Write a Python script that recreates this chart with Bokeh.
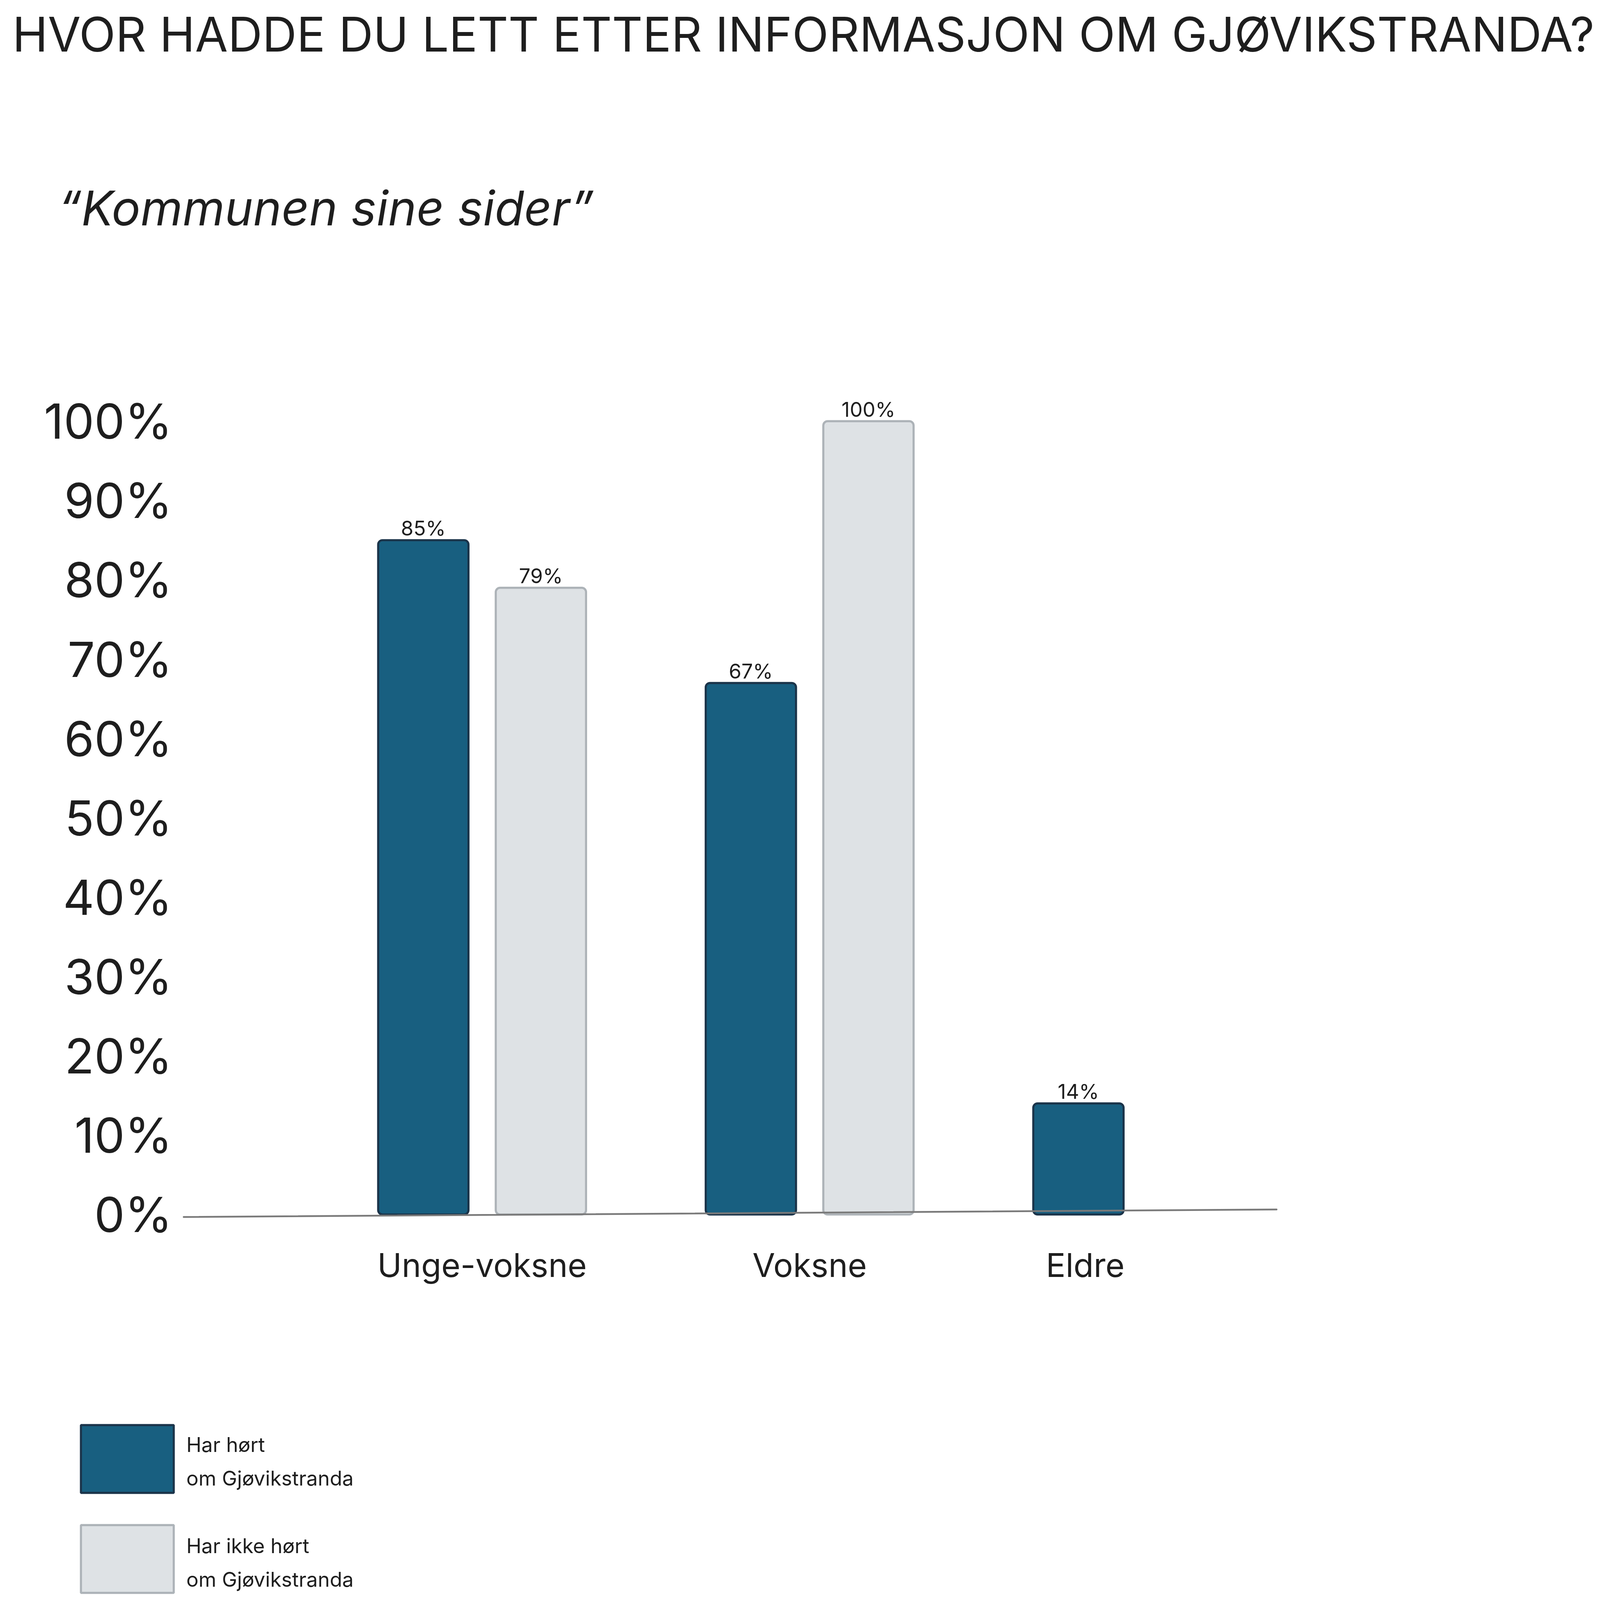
from bokeh.plotting import figure
from bokeh.models import ColumnDataSource, Range1d, FixedTicker, Label, Legend, LegendItem
from bokeh.embed import file_html
from bokeh.resources import INLINE
from bokeh.core.properties import value

# ---------------- data ----------------
title_text = "HVOR HADDE DU LETT ETTER INFORMASJON OM GJØVIKSTRANDA?"
subtitle_text = "\u201cKommunen sine sider\u201d"
categories = ["Unge-voksne", "Voksne", "Eldre"]
series_lines = [["Har hørt", "om Gjøvikstranda"], ["Har ikke hørt", "om Gjøvikstranda"]]
har_hort = [85, 67, 14]
har_ikke_hort = [79, 100, None]
y_ticks = [0, 10, 20, 30, 40, 50, 60, 70, 80, 90, 100]
y_tick_labels = ["0%", "10%", "20%", "30%", "40%", "50%", "60%", "70%", "80%", "90%", "100%"]

# ---------------- layout (reference pixel geometry -> page) ----------------
V = 4100                      # visible page size
SX, SY = V / 6102, V / 5766
W = H = V - 16


def cxp(rx):
    return rx * SX - 8


def cyp(ry):
    return ry * SY - 8


G0 = cxp(1848)                # centre of first group (canvas px)
GP = 1248 * SX                # px per group
Y0P = cyp(4383)               # canvas y of 0 %
PPP = (cyp(4383) - cyp(1527)) / 100.0


def dx(rx):
    return (cxp(rx) - G0) / GP


def dx_canvas(c):
    return (c - G0) / GP


def dy(ry):
    return (Y0P - cyp(ry)) / PPP


def dy_label(ry, font_px):
    # Label boxes sit ~0.29 em lower than the alphabetic baseline; compensate
    return (Y0P - (cyp(ry) - 0.29 * font_px)) / PPP


OFFSET = 224 / 1248
BAR_W = 344 / 1248
LABEL_X = [0, 1, dx(4146)]

DARK_FILL, DARK_LINE = "#185f80", "#1b344a"
LIGHT_FILL, LIGHT_LINE = "#dee2e5", "#adb3b8"
TEXT = "#1e1e1e"
FONT = "Inter"

p = figure(width=W, height=H, output_backend="svg", toolbar_location=None,
           x_range=Range1d(dx_canvas(0), dx_canvas(W)),
           y_range=Range1d((Y0P - H) / PPP, Y0P / PPP),
           min_border=0, min_border_left=0, min_border_right=0,
           min_border_top=0, min_border_bottom=0)
p.title.visible = False
p.outline_line_color = None
p.background_fill_color = "white"
p.border_fill_color = "white"
p.xgrid.visible = False
p.ygrid.visible = False

# bars
idx = list(range(len(categories)))
src_dark = ColumnDataSource(dict(
    x=[i - OFFSET for i in idx], top=har_hort,
    label=[f"{v}%" for v in har_hort]))
li = [i for i, v in zip(idx, har_ikke_hort) if v is not None]
lv = [v for v in har_ikke_hort if v is not None]
src_light = ColumnDataSource(dict(
    x=[i + OFFSET for i in li], top=lv, label=[f"{v}%" for v in lv]))

LW = 8 * SX
r_dark = p.vbar(x="x", top="top", bottom=0, width=BAR_W, source=src_dark,
                fill_color=DARK_FILL, line_color=DARK_LINE, line_width=LW,
                border_radius=11)
r_light = p.vbar(x="x", top="top", bottom=0, width=BAR_W, source=src_light,
                 fill_color=LIGHT_FILL, line_color=LIGHT_LINE, line_width=LW,
                 border_radius=11)

for s in (src_dark, src_light):
    p.text(x="x", y="top", text="label", source=s, text_align="center",
           text_baseline="alphabetic", y_offset=-30, text_color=TEXT,
           text_font=value(FONT), text_font_size="52px")

# tilted baseline
p.segment(x0=[dx(711)], y0=[dy(4392)], x1=[dx(4875)], y1=[dy(4365)],
          line_color="#7a7a7a", line_width=4.5, line_cap="round")

# axes (drawn at fixed locations inside the canvas)
p.yaxis.fixed_location = dx(711)
p.yaxis.ticker = FixedTicker(ticks=y_ticks)
p.yaxis.major_label_overrides = {t: l for t, l in zip(y_ticks, y_tick_labels)}
p.yaxis.axis_line_color = None
p.yaxis.major_tick_line_color = None
p.yaxis.minor_tick_line_color = None
p.yaxis.major_tick_out = 0
p.yaxis.major_tick_in = 0
p.yaxis.major_label_standoff = 29
p.yaxis.major_label_text_font = FONT
p.yaxis.major_label_text_font_size = f"{185 * SX:.0f}px"
p.yaxis.major_label_text_color = TEXT

p.xaxis.fixed_location = dy(4405)
p.xaxis.ticker = FixedTicker(ticks=LABEL_X)
p.xaxis.major_label_overrides = {t: c for t, c in zip(LABEL_X, categories)}
p.xaxis.axis_line_color = None
p.xaxis.major_tick_line_color = None
p.xaxis.minor_tick_line_color = None
p.xaxis.major_tick_out = 0
p.xaxis.major_tick_in = 0
p.xaxis.major_label_standoff = 63
p.xaxis.major_label_text_font = FONT
p.xaxis.major_label_text_font_size = "84px"
p.xaxis.major_label_text_color = TEXT

# title / subtitle
TITLE_PX, SUB_PX = 122, 123
p.add_layout(Label(x=dx_canvas(W - 3), y=dy_label(183, TITLE_PX), text=title_text,
                   text_align="right", text_baseline="alphabetic", text_font=FONT,
                   text_font_size=f"{TITLE_PX}px", text_color=TEXT))
p.add_layout(Label(x=dx(233), y=dy_label(810, SUB_PX), text=subtitle_text,
                   text_align="left", text_baseline="alphabetic", text_font=FONT,
                   text_font_size=f"{SUB_PX}px", text_font_style="italic",
                   text_color=TEXT))

# legend swatches (drawn inset by 10 % of the glyph box)
LEG_UP = 18                               # keep legend clear of the bottom edge (ref px)
SW_W, SW_H = 354 * SX, 244 * SY           # visible swatch size
GW, GH = SW_W / 0.8, SW_H / 0.8
leg_x = cxp(319) - 0.1 * GW
leg_bottom = cyp(5763 - LEG_UP) + 0.1 * GH
legend = Legend(items=[LegendItem(label=" ", renderers=[r_dark]),
                       LegendItem(label=" ", renderers=[r_light])],
                location=(int(round(leg_x)), int(round(H - leg_bottom))))
legend.glyph_width = int(round(GW))
legend.glyph_height = int(round(GH))
legend.label_height = int(round(GH))
legend.spacing = int(round(116 * SY - 0.2 * GH))
legend.label_standoff = 10
legend.padding = 0
legend.margin = 0
legend.border_line_color = None
legend.background_fill_alpha = 0
legend.label_text_font = FONT
legend.label_text_font_size = "52px"
legend.label_text_color = TEXT
p.add_layout(legend)

# legend texts (two lines per entry)
LEG_PX = 52
LEG_BASELINES = [[5251, 5372], [5615, 5736]]
for lines, bases in zip(series_lines, LEG_BASELINES):
    for txt, by in zip(lines, bases):
        p.add_layout(Label(x=dx(721), y=dy_label(by - LEG_UP, LEG_PX), text=txt,
                           text_align="left", text_baseline="alphabetic",
                           text_font=FONT, text_font_size=f"{LEG_PX}px",
                           text_color=TEXT))

open("out.html", "w").write(file_html(p, INLINE))
